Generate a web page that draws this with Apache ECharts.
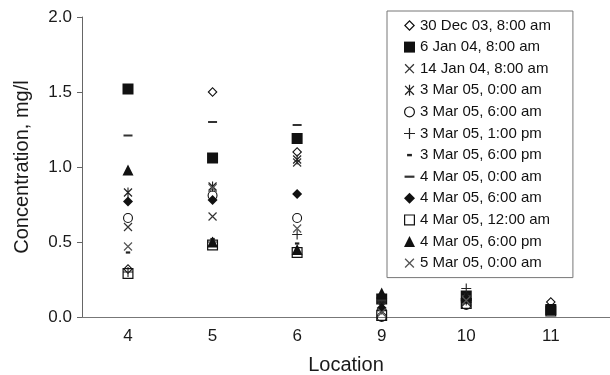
<!DOCTYPE html>
<html>
<head>
<meta charset="utf-8">
<script src="https://cdn.jsdelivr.net/npm/echarts@6/dist/echarts.min.js"></script>
<style>
html, body { margin: 0; padding: 0; background: #fff; }
#chart { width: 610px; height: 375px; }
</style>
</head>
<body>
<div id="chart"></div>
<script>
// locations on the x axis
var locations = ['4', '5', '6', '9', '10', '11'];

// concentration (mg/l) per sampling time, one value per location
var dec30_0800 = [0.32, 1.50, 1.10, 0.10, 0.12, 0.10];
var jan06_0800 = [1.52, 1.06, 1.19, 0.12, 0.14, 0.05];
var jan14_0800 = [0.60, 0.67, 1.03, 0.07, 0.10, null];
var mar03_0000 = [0.83, 0.87, 1.05, 0.08, 0.11, null];
var mar03_0600 = [0.66, 0.81, 0.66, 0.00, 0.08, null];
var mar03_1300 = [0.30, 0.50, 0.55, 0.05, 0.19, null];
var mar03_1800 = [0.43, 0.52, 0.49, 0.09, 0.15, null];
var mar04_0000 = [1.21, 1.30, 1.28, 0.11, 0.14, null];
var mar04_0600 = [0.77, 0.78, 0.82, 0.06, 0.12, null];
var mar04_1200 = [0.29, 0.48, 0.43, 0.01, 0.09, 0.04];
var mar04_1800 = [0.98, 0.50, 0.45, 0.16, 0.13, null];
var mar05_0000 = [0.47, 0.86, 0.59, 0.03, 0.11, null];

var yTicks = [0, 0.5, 1.0, 1.5, 2.0];

// marker shapes, all drawn in a 10x10 box
var PAD = 'M0,0M10,10';
var CROSS = 'M1.42,0.58L9.42,8.58L8.58,9.42L0.58,1.42ZM9.42,1.42L1.42,9.42L0.58,8.58L8.58,0.58Z';
var VBAR = 'M4.45,0L5.55,0L5.55,10L4.45,10Z';
var HBAR = 'M0,4.45L10,4.45L10,5.55L0,5.55Z';
var shapes = {
	hollowDiamond: 'path://M5,0L10,5L5,10L0,5ZM5,1.6L1.6,5L5,8.4L8.4,5Z',
	square: 'path://M0,0L10,0L10,10L0,10Z',
	cross: 'path://' + PAD + CROSS,
	asterisk: 'path://' + PAD + CROSS + VBAR,
	circle: 'path://M5,0A5,5 0 1,1 5,10A5,5 0 1,1 5,0ZM5,1.1A3.9,3.9 0 1,0 5,8.9A3.9,3.9 0 1,0 5,1.1Z',
	plus: 'path://' + PAD + VBAR + HBAR,
	shortDash: 'path://' + PAD + 'M2.8,3.9L7.2,3.9L7.2,6.1L2.8,6.1Z',
	longDash: 'path://' + PAD + 'M0.5,4L9.5,4L9.5,6L0.5,6Z',
	diamond: 'path://M5,0L10,5L5,10L0,5Z',
	hollowSquare: 'path://M0,0L10,0L10,10L0,10ZM1.1,1.1L1.1,8.9L8.9,8.9L8.9,1.1Z',
	triangle: 'path://M5,0L10,10L0,10Z'
};

var seriesDefs = [
	{name: '30 Dec 03, 8:00 am', data: dec30_0800, symbol: shapes.hollowDiamond, size: 10, color: '#111'},
	{name: '6 Jan 04, 8:00 am', data: jan06_0800, symbol: shapes.square, size: 11, color: '#111'},
	{name: '14 Jan 04, 8:00 am', data: jan14_0800, symbol: shapes.cross, size: 10, color: '#333'},
	{name: '3 Mar 05, 0:00 am', data: mar03_0000, symbol: shapes.asterisk, size: 10, color: '#222'},
	{name: '3 Mar 05, 6:00 am', data: mar03_0600, symbol: shapes.circle, size: 10, color: '#111'},
	{name: '3 Mar 05, 1:00 pm', data: mar03_1300, symbol: shapes.plus, size: 10, color: '#222'},
	{name: '3 Mar 05, 6:00 pm', data: mar03_1800, symbol: shapes.shortDash, size: 10, color: '#222'},
	{name: '4 Mar 05, 0:00 am', data: mar04_0000, symbol: shapes.longDash, size: 10, color: '#333'},
	{name: '4 Mar 05, 6:00 am', data: mar04_0600, symbol: shapes.diamond, size: 10, color: '#111'},
	{name: '4 Mar 05, 12:00 am', data: mar04_1200, symbol: shapes.hollowSquare, size: 11, color: '#111'},
	{name: '4 Mar 05, 6:00 pm', data: mar04_1800, symbol: shapes.triangle, size: 11, color: '#111'},
	{name: '5 Mar 05, 0:00 am', data: mar05_0000, symbol: shapes.cross, size: 10, color: '#555'}
];

var series = seriesDefs.map(function(s) {
	var pts = [];
	s.data.forEach(function(v, i) {
		if (v !== null) {
			pts.push([i, v]);
		}
	});
	return {
		name: s.name,
		type: 'scatter',
		data: pts,
		symbol: s.symbol,
		symbolSize: s.size,
		itemStyle: {color: s.color, opacity: 1},
		emphasis: {disabled: true}
	};
});

var FONT = 'Liberation Sans, Arial, sans-serif';

var myChart = echarts.init(document.getElementById('chart'), null, {renderer: 'canvas'});
var option = {
	animation: false,
	backgroundColor: '#fff',
	textStyle: {fontFamily: FONT},
	grid: {
		left: 82,
		right: 0,
		top: 17,
		bottom: 58,
		containLabel: false,
		outerBoundsMode: 'none'
	},
	legend: {
		orient: 'vertical',
		left: 387,
		top: 11,
		padding: [7, 22, 7, 17],
		itemWidth: 11,
		itemHeight: 11,
		itemGap: 6.6,
		borderColor: '#777',
		borderWidth: 1,
		selectedMode: false,
		textStyle: {fontSize: 15, lineHeight: 15, color: '#111', fontFamily: FONT},
		data: seriesDefs.map(function(s) { return s.name; })
	},
	xAxis: {
		type: 'value',
		min: -0.544,
		max: 5.70,
		minInterval: 1,
		maxInterval: 1,
		name: 'Location',
		nameLocation: 'middle',
		nameGap: 38,
		nameTextStyle: {fontSize: 20, color: '#1a1a1a', fontFamily: FONT},
		axisLine: {onZero: false, lineStyle: {color: '#777', width: 1}},
		axisTick: {show: false},
		splitLine: {show: false},
		axisLabel: {
			fontSize: 17,
			color: '#1a1a1a',
			margin: 11,
			formatter: function(v) {
				return Number.isInteger(v) && locations[v] !== undefined ? locations[v] : '';
			}
		}
	},
	yAxis: {
		type: 'value',
		min: yTicks[0],
		max: yTicks[yTicks.length - 1],
		interval: 0.5,
		name: 'Concentration, mg/l',
		nameLocation: 'middle',
		nameGap: 50,
		nameTextStyle: {fontSize: 20, color: '#1a1a1a', fontFamily: FONT},
		axisLine: {show: true, onZero: false, lineStyle: {color: '#666', width: 1}},
		axisTick: {show: true, length: 5, lineStyle: {color: '#666'}},
		splitLine: {show: false},
		axisLabel: {
			fontSize: 17,
			color: '#1a1a1a',
			margin: 10,
			formatter: function(v) { return v.toFixed(1); }
		}
	},
	series: series
};
myChart.setOption(option);
</script>
</body>
</html>
